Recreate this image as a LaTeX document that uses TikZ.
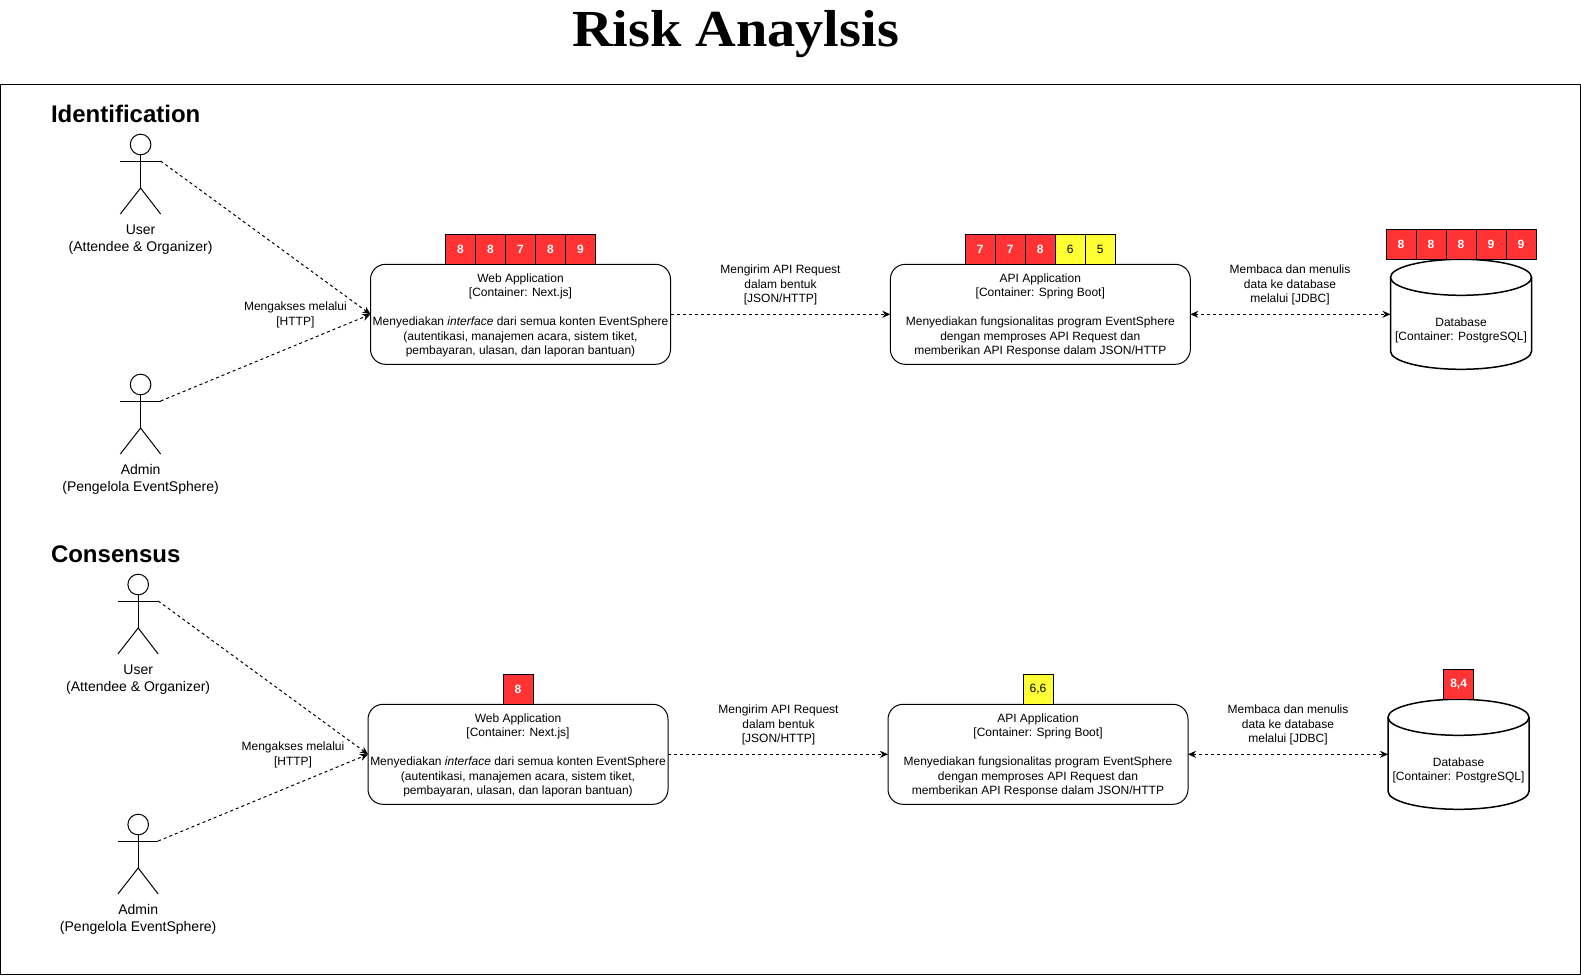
\documentclass[tikz,border=0pt]{standalone}
\usepackage{fontspec}
\setmainfont{Liberation Sans}
\newfontfamily\titlefont[FakeStretch=1.083]{Liberation Serif}
\usetikzlibrary{arrows.meta}
\definecolor{riskred}{HTML}{FF3333}
\definecolor{riskyellow}{HTML}{FFFF33}
\begin{document}
\begin{tikzpicture}[
	x=1pt, y=-1pt, line width=1pt,
	every node/.style={ font=\fontsize{12}{14.4}\selectfont, inner sep=0pt, outer sep=0pt },
	container/.style={ draw, fill=white, rounded corners=15pt, minimum width=300pt, minimum height=100pt, align=center },
	redcell/.style={ draw, fill=riskred, text=white, font=\fontsize{12}{14.4}\selectfont\bfseries, minimum size=30pt },
	yellowcell/.style={ draw, fill=riskyellow, minimum size=30pt },
	heading/.style={ font=\fontsize{24}{28}\selectfont\bfseries, anchor=west },
	caption/.style={ font=\fontsize{14}{16.8}\selectfont, align=center },
	edgelabel/.style={ align=center },
	flow/.style={ dashed, dash pattern=on 3pt off 3pt, -{Stealth[length=8pt,width=7pt]} },
	flowboth/.style={ dashed, dash pattern=on 3pt off 3pt, {Stealth[length=8pt,width=7pt]}-{Stealth[length=8pt,width=7pt]} },
	actor/.pic={
		\draw (0,-16.5) circle (10.3);
		\draw (-20.3,0) -- (20,0);
		\draw (0,-6.2) -- (0,27);
		\draw (-20.3,53) -- (0,27) -- (20,53);
		\coordinate (-arm) at (20,0);
	},
	database/.pic={
		\draw [fill=white, line width=1.5pt] (-70.5,-37) -- (-70.5,37) arc [start angle=180, end angle=360, x radius=70.5pt, y radius=18pt] -- (70.5,-37);
		\draw [fill=white, line width=1.5pt] (0,-37) ellipse [x radius=70.5pt, y radius=18pt];
		\coordinate (-west) at (-70.5,0);
	}
]
\useasboundingbox (0,0) rectangle (1581,975);

\node at (735.6,34.5) (title) [font=\fontsize{52}{60}\selectfont\titlefont\bfseries] {Risk Anaylsis};
\draw (0.5,84.5) rectangle (1580.5,974.5);

% identification
\node at (51,114) (hid) [heading] {Identification};
\pic (u1) at (140.6,161) {actor};
\node at (140.6,240) (cu1) [caption] {User\\(Attendee \& Organizer)};
\pic (a1) at (140.6,401) {actor};
\node at (140.6,479.5) (ca1) [caption] {Admin\\(Pengelola EventSphere)};

\node at (520.5,314.3) (w1) [container] {\rule{0pt}{11pt}Web Application\\{}[Container: Next.js]\\ \\Menyediakan \textit{interface} dari semua konten EventSphere\\(autentikasi, manajemen acara, sistem tiket,\\pembayaran, ulasan, dan laporan bantuan)};
\node at (1040.3,314.3) (b1) [container] {\rule{0pt}{11pt}API Application\\{}[Container: Spring Boot]\\ \\Menyediakan fungsionalitas program EventSphere\\dengan memproses API Request dan\\memberikan API Response dalam JSON/HTTP};
\pic (d1) at (1461,314.3) {database};
\node at (1461,330.5) (td1) [edgelabel] {Database\\{}[Container: PostgreSQL]};

\node at (460.5,249.3) (w1a) [redcell] {8};
\node at (490.5,249.3) (w1b) [redcell] {8};
\node at (520.5,249.3) (w1c) [redcell] {7};
\node at (550.5,249.3) (w1d) [redcell] {8};
\node at (580.5,249.3) (w1e) [redcell] {9};
\node at (980.3,249.3) (b1a) [redcell] {7};
\node at (1010.3,249.3) (b1b) [redcell] {7};
\node at (1040.3,249.3) (b1c) [redcell] {8};
\node at (1070.3,249.3) (b1d) [yellowcell] {6};
\node at (1100.3,249.3) (b1e) [yellowcell] {5};
\node at (1401,244.3) (d1a) [redcell] {8};
\node at (1431,244.3) (d1b) [redcell] {8};
\node at (1461,244.3) (d1c) [redcell] {8};
\node at (1491,244.3) (d1d) [redcell] {9};
\node at (1521,244.3) (d1e) [redcell] {9};

\draw [flow] (u1-arm) to (w1.west);
\draw [flow] (a1-arm) to (w1.west);
\draw [flow] (w1) to (b1);
\draw [flowboth] (b1) to (d1-west);
\node at (295.4,315) (l1a) [edgelabel] {Mengakses melalui\\{}[HTTP]};
\node at (780.5,285) (l1b) [edgelabel] {Mengirim API Request\\dalam bentuk\\{}[JSON/HTTP]};
\node at (1290,285) (l1c) [edgelabel] {Membaca dan menulis\\data ke database\\melalui [JDBC]};

% consensus
\node at (51,554) (hco) [heading] {Consensus};
\pic (u2) at (138.2,601) {actor};
\node at (138.2,680) (cu2) [caption] {User\\(Attendee \& Organizer)};
\pic (a2) at (138.2,841) {actor};
\node at (138.2,919.5) (ca2) [caption] {Admin\\(Pengelola EventSphere)};

\node at (518,754.3) (w2) [container] {\rule{0pt}{11pt}Web Application\\{}[Container: Next.js]\\ \\Menyediakan \textit{interface} dari semua konten EventSphere\\(autentikasi, manajemen acara, sistem tiket,\\pembayaran, ulasan, dan laporan bantuan)};
\node at (1038,754.3) (b2) [container] {\rule{0pt}{11pt}API Application\\{}[Container: Spring Boot]\\ \\Menyediakan fungsionalitas program EventSphere\\dengan memproses API Request dan\\memberikan API Response dalam JSON/HTTP};
\pic (d2) at (1458.5,754.3) {database};
\node at (1458.5,770.5) (td2) [edgelabel] {Database\\{}[Container: PostgreSQL]};

\node at (518,689.3) (w2a) [redcell] {8};
\node at (1038,689.3) (b2a) [yellowcell] {6,6};
\node at (1458.6,684.3) (d2a) [redcell] {8,4};

\draw [flow] (u2-arm) to (w2.west);
\draw [flow] (a2-arm) to (w2.west);
\draw [flow] (w2) to (b2);
\draw [flowboth] (b2) to (d2-west);
\node at (293,755) (l2a) [edgelabel] {Mengakses melalui\\{}[HTTP]};
\node at (778.5,725) (l2b) [edgelabel] {Mengirim API Request\\dalam bentuk\\{}[JSON/HTTP]};
\node at (1288,725) (l2c) [edgelabel] {Membaca dan menulis\\data ke database\\melalui [JDBC]};

\end{tikzpicture}
\end{document}
